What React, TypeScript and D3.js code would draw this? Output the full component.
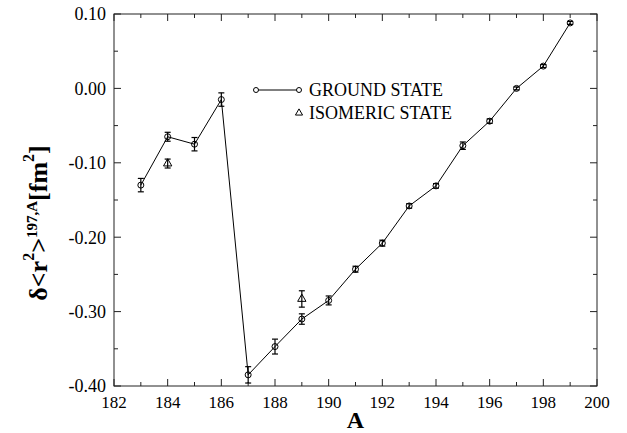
import * as d3 from 'd3';

// ground state
const groundA = [183, 184, 185, 186, 187, 188, 189, 190, 191, 192, 193, 194, 195, 196, 197, 198, 199];
const groundVal = [-0.130, -0.065, -0.075, -0.015, -0.385, -0.347, -0.310, -0.285, -0.243, -0.208, -0.158, -0.131, -0.077, -0.044, 0.000, 0.030, 0.088];
const groundErr = [0.009, 0.006, 0.009, 0.009, 0.011, 0.010, 0.007, 0.006, 0.004, 0.004, 0.003, 0.003, 0.005, 0.003, 0.002, 0.002, 0.002];

// isomeric state
const isoA = [184, 189];
const isoVal = [-0.101, -0.283];
const isoErr = [0.006, 0.011];

const xTicks = [182, 184, 186, 188, 190, 192, 194, 196, 198, 200];
const yTicks = [0.10, 0.00, -0.10, -0.20, -0.30, -0.40];

const W = 627;
const H = 433;
const margin = { left: 114, top: 14, right: 30, bottom: 47 };
const FONT = 'Liberation Serif';

const x = d3.scaleLinear().domain([182, 200]).range([margin.left, W - margin.right]);
const y = d3.scaleLinear().domain([-0.40, 0.10]).range([H - margin.bottom, margin.top]);

function ErrBar({ a, v, e }) {
  const cx = x(a);
  const lo = y(v - e);
  const hi = y(v + e);
  return (
    <g stroke="#000" strokeWidth={1.2}>
      <line x1={cx} x2={cx} y1={lo} y2={hi} />
      <line x1={cx - 3} x2={cx + 3} y1={lo} y2={lo} />
      <line x1={cx - 3} x2={cx + 3} y1={hi} y2={hi} />
    </g>
  );
}

function App() {
  const [x0, x1] = x.range();
  const [y0, y1] = y.range();

  const ground = groundA.map((a, i) => ({ a, v: groundVal[i], e: groundErr[i] }));
  const iso = isoA.map((a, i) => ({ a, v: isoVal[i], e: isoErr[i] }));
  const line = d3.line().x(d => x(d.a)).y(d => y(d.v));
  const tri = d3.symbol().type(d3.symbolTriangle).size(30)();
  const triSmall = d3.symbol().type(d3.symbolTriangle).size(22)();

  const xMinor = d3.range(182, 201, 1);
  const yMinor = d3.range(-8, 3, 1);

  return (
    <svg width={W} height={H} style={{ position: 'absolute', left: 0, top: 0, background: '#fff' }}>
      <g stroke="#222" strokeWidth={1} fill="none">
        <rect x={x0} y={y1} width={x1 - x0} height={y0 - y1} />
        {xMinor.map(v => {
          const len = v % 2 === 0 ? 7 : 4;
          return (
            <g key={'x' + v}>
              <line x1={x(v)} x2={x(v)} y1={y0} y2={y0 - len} />
              <line x1={x(v)} x2={x(v)} y1={y1} y2={y1 + len} />
            </g>
          );
        })}
        {yMinor.map(i => {
          const v = i * 0.05;
          const len = i % 2 === 0 ? 7 : 4;
          return (
            <g key={'y' + i}>
              <line x1={x0} x2={x0 + len} y1={y(v)} y2={y(v)} />
              <line x1={x1} x2={x1 - len} y1={y(v)} y2={y(v)} />
            </g>
          );
        })}
      </g>

      {xTicks.map(d => (
        <text key={d} x={x(d)} y={y0 + 22} textAnchor="middle" fontFamily={FONT} fontSize={17}>{d}</text>
      ))}
      {yTicks.map(d => (
        <text key={d} x={x0 - 8} y={y(d)} dy="0.35em" textAnchor="end" fontFamily={FONT} fontSize={18}>
          {d3.format('.2f')(d).replace('\u2212', '-')}
        </text>
      ))}

      <text x={(x0 + x1) / 2} y={428} textAnchor="middle" fontFamily={FONT} fontSize={24} fontWeight="bold">A</text>

      <text transform={`translate(47,${(y0 + y1) / 2 + 23}) rotate(-90)`} textAnchor="middle"
        fontFamily={FONT} fontSize={26} fontWeight="bold">
        <tspan>δ&lt;r</tspan>
        <tspan dy={-13} fontSize={16}>2</tspan>
        <tspan dy={13}>&gt;</tspan>
        <tspan dy={-10} fontSize={15}>197,A</tspan>
        <tspan dy={10}>[fm</tspan>
        <tspan dy={-13} fontSize={16}>2</tspan>
        <tspan dy={13}>]</tspan>
      </text>

      <path d={line(ground)} fill="none" stroke="#000" strokeWidth={1} />
      {ground.map(d => <ErrBar key={'g' + d.a} {...d} />)}
      {iso.map(d => <ErrBar key={'i' + d.a} {...d} />)}
      {ground.map(d => (
        <circle key={'c' + d.a} cx={x(d.a)} cy={y(d.v)} r={3} fill="none" stroke="#000" strokeWidth={1} />
      ))}
      {iso.map(d => (
        <path key={'t' + d.a} transform={`translate(${x(d.a)},${y(d.v)})`} d={tri}
          fill="none" stroke="#000" strokeWidth={1} />
      ))}

      <g>
        <line x1={256} x2={299} y1={90} y2={90} stroke="#000" />
        {[256, 299].map(cx => <circle key={cx} cx={cx} cy={90} r={2.5} fill="#fff" stroke="#000" />)}
        <path transform="translate(299,113)" d={triSmall} fill="none" stroke="#000" />
        <text x={309} y={90} dy="0.35em" fontFamily={FONT} fontSize={18}>GROUND STATE</text>
        <text x={309} y={113} dy="0.35em" fontFamily={FONT} fontSize={18}>ISOMERIC STATE</text>
      </g>
    </svg>
  );
}

export default App;
